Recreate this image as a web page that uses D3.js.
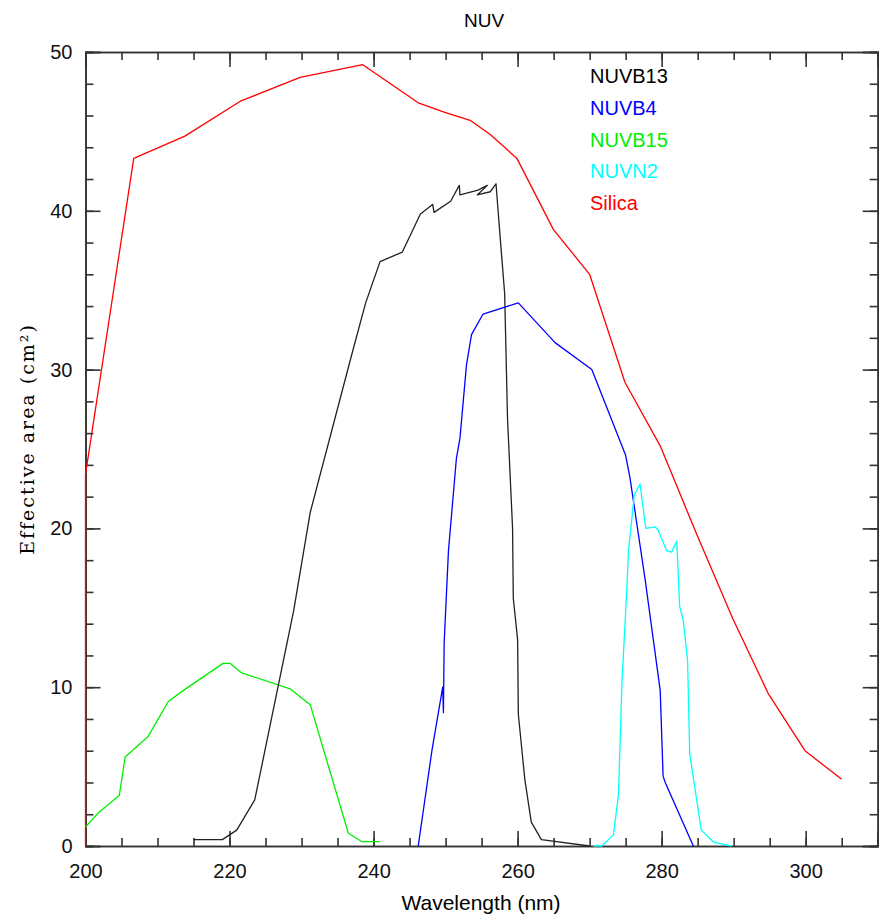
<!DOCTYPE html>
<meta charset="utf-8">
<style>
body { margin: 0; background: #fff; }
.axis path { stroke: #333; stroke-width: 1.6; }
.axis line { stroke: #333; stroke-width: 1.6; }
.axis text { font: 20px "Liberation Sans", Arial, sans-serif; fill: #111; }
.curve { fill: none; stroke-width: 1.3; stroke-linejoin: round; }
.legend text { font: 20px "Liberation Sans", Arial, sans-serif; }
</style>
<body>
<script src="https://d3js.org/d3.v7.min.js"></script>
<script>

// ---- data: [wavelength nm, effective area cm2] ----
var silica = [
  [200, 0], [200, 23.4], [206.7, 43.3], [213.8, 44.7], [221.5, 46.9], [229.8, 48.4],
  [238.5, 49.2], [246.2, 46.8], [249.9, 46.2], [253.4, 45.7], [256.2, 44.8], [259.9, 43.3],
  [265.0, 38.8], [270.0, 36.0], [274.9, 29.2], [279.8, 25.2], [284.9, 19.6], [289.9, 14.3],
  [294.8, 9.6], [299.9, 6.0], [305.0, 4.2]
]

var nuvb13 = [
  [215.0, 0.4], [219.0, 0.4], [221.0, 1.0], [223.5, 2.9], [228.9, 14.8], [231.2, 21.0],
  [237.0, 31.0], [238.9, 34.2], [240.9, 36.8], [244.0, 37.4], [246.5, 39.8], [248.2, 40.4],
  [248.4, 39.9], [250.7, 40.6], [251.9, 41.6], [252.0, 41.0], [254.5, 41.3], [255.8, 41.6],
  [254.4, 41.0], [256.2, 41.2], [257.0, 41.7], [257.6, 38.2], [258.2, 34.8], [258.6, 26.9],
  [259.3, 20.0], [259.4, 15.6], [260.0, 13.0], [260.1, 8.3], [261.0, 4.2], [261.9, 1.5],
  [263.3, 0.4], [270.0, 0.0]
]

var nuvb4 = [
  [246.2, 0], [248.1, 6.0], [249.6, 10.0], [249.7, 8.4], [249.8, 12.8], [250.4, 18.6],
  [251.5, 24.4], [252.0, 25.7], [252.9, 30.3], [253.6, 32.2], [255.2, 33.5], [260.1, 34.2],
  [265.2, 31.7], [270.3, 30.0], [275.0, 24.6], [275.6, 23.2], [277.7, 16.8], [279.8, 9.8],
  [280.2, 4.4], [280.5, 4.0], [284.4, 0]
]

var nuvb15 = [
  [200.0, 1.2], [201.8, 2.1], [204.7, 3.2], [205.5, 5.6], [208.7, 6.9], [211.5, 9.1],
  [213.6, 9.8], [219.1, 11.5], [220.1, 11.5], [221.7, 10.9], [228.4, 9.9], [231.2, 8.9],
  [236.5, 0.8], [238.4, 0.27], [240.9, 0.27]
]

var nuvn2 = [
  [270.5, 0], [271.7, 0], [273.3, 0.7], [274.0, 3.2], [274.5, 10.4], [275.1, 15.6],
  [275.4, 18.6], [276.2, 22.1], [277.0, 22.8], [277.8, 20.0], [279.1, 20.1], [279.5, 19.9],
  [280.7, 18.6], [281.4, 18.5], [282.1, 19.2], [282.5, 15.1], [283.0, 14.2], [283.6, 11.7],
  [283.9, 5.8], [285.5, 1.0], [287.2, 0.25], [289.7, 0]
]

var seriesNames = ['NUVB13', 'NUVB4', 'NUVB15', 'NUVN2', 'Silica']
var seriesColors = ['#222222', '#0000ff', '#00ee00', '#00ffff', '#ff0000']
var seriesData = [nuvb13, nuvb4, nuvb15, nuvn2, silica]
var drawOrder = [4, 2, 0, 1, 3]

var xMajor = [200, 220, 240, 260, 280, 300]
var yMajor = [0, 10, 20, 30, 40, 50]

//-----------------------------------------------------

var width = 883
var height = 920
var margin = {top: 52, right: 5.3, bottom: 74, left: 85.5}
var w = width - margin.left - margin.right
var h = height - margin.top - margin.bottom

var svg = d3.select('body').append('svg')
    .attr('width', width)
    .attr('height', height)

var g = svg.append('g')
    .attr('transform', 'translate(' + margin.left + ',' + margin.top + ')')

var x = d3.scaleLinear().domain([200, 310]).range([0, w])
var y = d3.scaleLinear().domain([0, 50]).range([h, 0])

// minor ticks (no labels)
g.append('g').attr('class', 'axis')
    .attr('transform', 'translate(0,' + h + ')')
    .call(d3.axisBottom(x).tickValues(d3.range(200, 311, 5)).tickSize(-8).tickFormat(''))
g.append('g').attr('class', 'axis')
    .call(d3.axisTop(x).tickValues(d3.range(200, 311, 5)).tickSize(-8).tickFormat(''))
g.append('g').attr('class', 'axis')
    .call(d3.axisLeft(y).tickValues(d3.range(0, 51, 2)).tickSize(-8).tickFormat(''))
g.append('g').attr('class', 'axis')
    .attr('transform', 'translate(' + w + ',0)')
    .call(d3.axisRight(y).tickValues(d3.range(0, 51, 2)).tickSize(-8).tickFormat(''))

// major ticks
g.append('g').attr('class', 'axis')
    .attr('transform', 'translate(0,' + h + ')')
    .call(d3.axisBottom(x).tickValues(xMajor).tickSize(-15).tickPadding(18).tickFormat(d3.format('d')))
g.append('g').attr('class', 'axis')
    .call(d3.axisTop(x).tickValues(xMajor).tickSize(-15).tickFormat(''))
g.append('g').attr('class', 'axis')
    .call(d3.axisLeft(y).tickValues(yMajor).tickSize(-15).tickPadding(13).tickFormat(d3.format('d')))
g.append('g').attr('class', 'axis')
    .attr('transform', 'translate(' + w + ',0)')
    .call(d3.axisRight(y).tickValues(yMajor).tickSize(-15).tickFormat(''))

var line = d3.line()
    .x(function (d) { return x(d[0]) })
    .y(function (d) { return y(d[1]) })

g.append('g')
    .selectAll('path')
    .data(drawOrder)
    .enter().append('path')
    .attr('class', 'curve')
    .attr('stroke', function (i) { return seriesColors[i] })
    .attr('d', function (i) { return line(seriesData[i]) })

var legend = g.append('g').attr('class', 'legend')
legend.selectAll('text')
    .data(seriesNames)
    .enter().append('text')
    .attr('x', 590 - margin.left)
    .attr('y', function (d, i) { return 83.3 - margin.top + i * 31.7 })
    .attr('fill', function (d, i) { return seriesColors[i] === '#222222' ? '#000' : seriesColors[i] })
    .text(function (d) { return d })

svg.append('text')
    .attr('x', 484).attr('y', 27)
    .attr('text-anchor', 'middle')
    .style('font', '19px "Liberation Sans", Arial, sans-serif')
    .text('NUV')

svg.append('text')
    .attr('x', 481).attr('y', 910)
    .attr('text-anchor', 'middle')
    .style('font', '21px "Liberation Sans", Arial, sans-serif')
    .text('Wavelength (nm)')

svg.append('text')
    .attr('transform', 'translate(34,439) rotate(-90)')
    .attr('text-anchor', 'middle')
    .style('font', '19px "DejaVu Serif", serif')
    .style('letter-spacing', '2px')
    .text('Effective area (cm²)')

</script>
</body>
